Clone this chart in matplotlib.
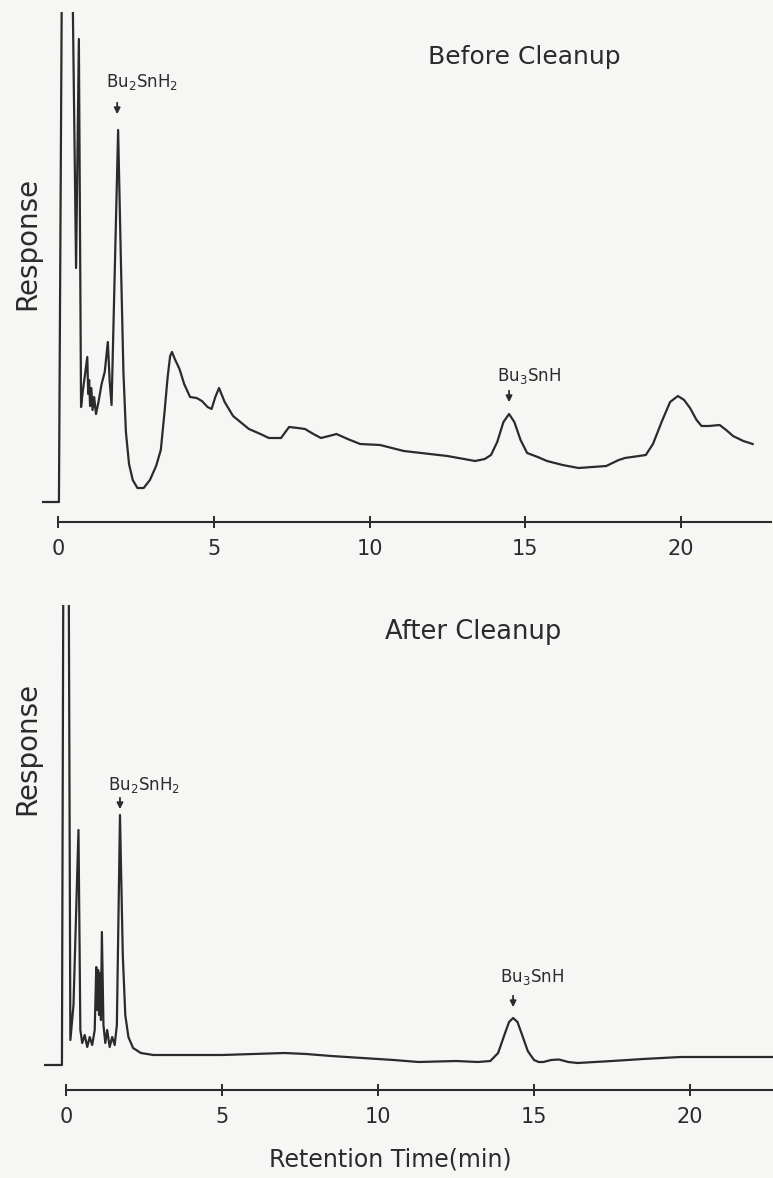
import numpy as np
import matplotlib.pyplot as plt

# chromatogram traces (time in min, response in arbitrary units)
before_t = [-0.48, 0.03, 0.13, 0.45, 0.58, 0.67, 0.74, 0.80, 0.87, 0.94, 0.97, 1.00, 1.03,
            1.07, 1.11, 1.16, 1.22, 1.30, 1.40, 1.50, 1.60, 1.66, 1.72, 1.93, 2.02, 2.10,
            2.18, 2.28, 2.40, 2.55, 2.75, 2.95, 3.15, 3.30, 3.42, 3.52, 3.60, 3.66, 3.75,
            3.90, 4.05, 4.24, 4.45, 4.62, 4.80, 4.93, 5.05, 5.17, 5.35, 5.62, 6.13, 6.50,
            6.77, 7.16, 7.30, 7.42, 7.70, 7.93, 8.20, 8.44, 8.70, 8.94, 9.30, 9.70, 10.34,
            11.10, 12.50, 13.39, 13.70, 13.90, 14.10, 14.30, 14.48, 14.65, 14.85, 15.06,
            15.40, 15.70, 16.20, 16.71, 17.60, 18.00, 18.20, 18.87, 19.10, 19.39, 19.65,
            19.90, 20.10, 20.29, 20.50, 20.66, 20.90, 21.24, 21.45, 21.67, 22.00, 22.30]
before_r = [0, 0, 560, 560, 234, 463, 95, 112, 128, 145, 108, 122, 96,
            114, 92, 105, 88, 100, 118, 130, 160, 120, 97, 372, 240, 130,
            70, 38, 22, 14, 14, 22, 36, 52, 90, 125, 146, 150, 143,
            133, 118, 105, 104, 101, 95, 93, 105, 114, 100, 86, 73, 68,
            64, 64, 70, 75, 74, 73, 68, 64, 66, 68, 63, 58, 57,
            51, 46, 41, 43, 47, 60, 80, 88, 80, 62, 49,
            45, 41, 37, 34, 36, 42, 44, 47, 58, 81, 100,
            106, 102, 94, 82, 76, 76, 77, 72, 66, 61, 58]

after_t = [-0.67, -0.13, -0.08, 0.08, 0.14, 0.24, 0.40, 0.46, 0.52, 0.60, 0.68, 0.76,
           0.84, 0.92, 0.97, 1.00, 1.03, 1.06, 1.09, 1.12, 1.15, 1.20, 1.26, 1.32, 1.40,
           1.48, 1.56, 1.63, 1.73, 1.82, 1.90, 2.00, 2.15, 2.40, 2.80, 3.20, 4.00, 5.00,
           6.00, 7.00, 7.70, 8.50, 9.50, 10.50, 11.30, 12.50, 13.20, 13.60, 13.85, 14.05,
           14.20, 14.33, 14.47, 14.62, 14.80, 15.00, 15.15, 15.30, 15.55, 15.80, 16.10,
           16.40, 17.50, 18.50, 19.70, 21.00, 22.70]
after_r = [0, 0, 560, 560, 25, 60, 235, 35, 22, 30, 18, 28,
           20, 35, 98, 55, 95, 50, 92, 45, 133, 40, 22, 35, 18,
           28, 20, 40, 250, 110, 50, 28, 17, 12, 10, 10, 10, 10,
           11, 12, 11, 9, 7, 5, 3, 4, 3, 4, 12, 30,
           43, 47, 43, 30, 14, 5, 3, 3, 5, 5.5, 3,
           2, 4, 6, 8, 8, 8]

ticks = [0, 5, 10, 15, 20]

W, H = 773, 1178
ink = '#2b2b2b'
paper = '#f6f6f4'

fig = plt.figure(figsize=(W / 100, H / 100), dpi=100, facecolor=paper)


def px_axes(top, bottom):
    return fig.add_axes([0, 1 - bottom / H, 1, (bottom - top) / H])


def style(ax, xlim, ylim, xend):
    ax.set_facecolor(paper)
    ax.set_xlim(*xlim)
    ax.set_ylim(*ylim)
    for s in ['top', 'right', 'left']:
        ax.spines[s].set_visible(False)
    ax.spines['bottom'].set_bounds(0, xend)
    ax.spines['bottom'].set_linewidth(1.5)
    ax.spines['bottom'].set_color(ink)
    ax.set_yticks([])
    ax.set_xticks(ticks)
    ax.set_xticklabels([str(t) for t in ticks])
    ax.tick_params(axis='x', direction='inout', length=8, width=1.4, color=ink,
                   pad=8, labelsize=15, labelcolor=ink)


def mark(ax, t, tip, label, tx, ty):
    ax.annotate('', xy=(t, tip), xytext=(t, tip + 17),
                arrowprops=dict(arrowstyle='-|>', color=ink, lw=1.3, mutation_scale=9))
    ax.text(tx, ty, label, fontsize=12, color=ink, va='center', ha='left')


# ---- Before Cleanup ----
ax1 = px_axes(12, 522)
ax1.plot(before_t, before_r, color=ink, lw=1.6, solid_joinstyle='round')
style(ax1, ((0 - 58) / 31.15, (W - 58) / 31.15), (-20, 490), 22.89)
mark(ax1, 1.9, 385, r'Bu$_2$SnH$_2$', 1.55, 420)
mark(ax1, 14.48, 97, r'Bu$_3$SnH', 14.1, 126)

# ---- After Cleanup ----
ax2 = px_axes(605, 1090)
ax2.plot(after_t, after_r, color=ink, lw=1.6, solid_joinstyle='round')
style(ax2, ((0 - 66) / 31.2, (W - 66) / 31.2), (-25, 460), 22.7)
mark(ax2, 1.73, 253, r'Bu$_2$SnH$_2$', 1.35, 280)
mark(ax2, 14.33, 55, r'Bu$_3$SnH', 13.9, 88)

fig.text(428 / W, 1 - 57 / H, 'Before Cleanup', fontsize=18, color=ink, va='center', ha='left')
fig.text(385 / W, 1 - 632 / H, 'After Cleanup', fontsize=18.5, color=ink, va='center', ha='left')
fig.text(27 / W, 1 - 243 / H, 'Response', fontsize=20, color=ink, rotation=90,
         va='center', ha='center')
fig.text(27 / W, 1 - 748 / H, 'Response', fontsize=20, color=ink, rotation=90,
         va='center', ha='center')
fig.text(390 / W, 1 - 1160 / H, 'Retention Time(min)', fontsize=17, color=ink,
         va='center', ha='center')

fig.savefig('out.png', dpi=100, facecolor=paper)
